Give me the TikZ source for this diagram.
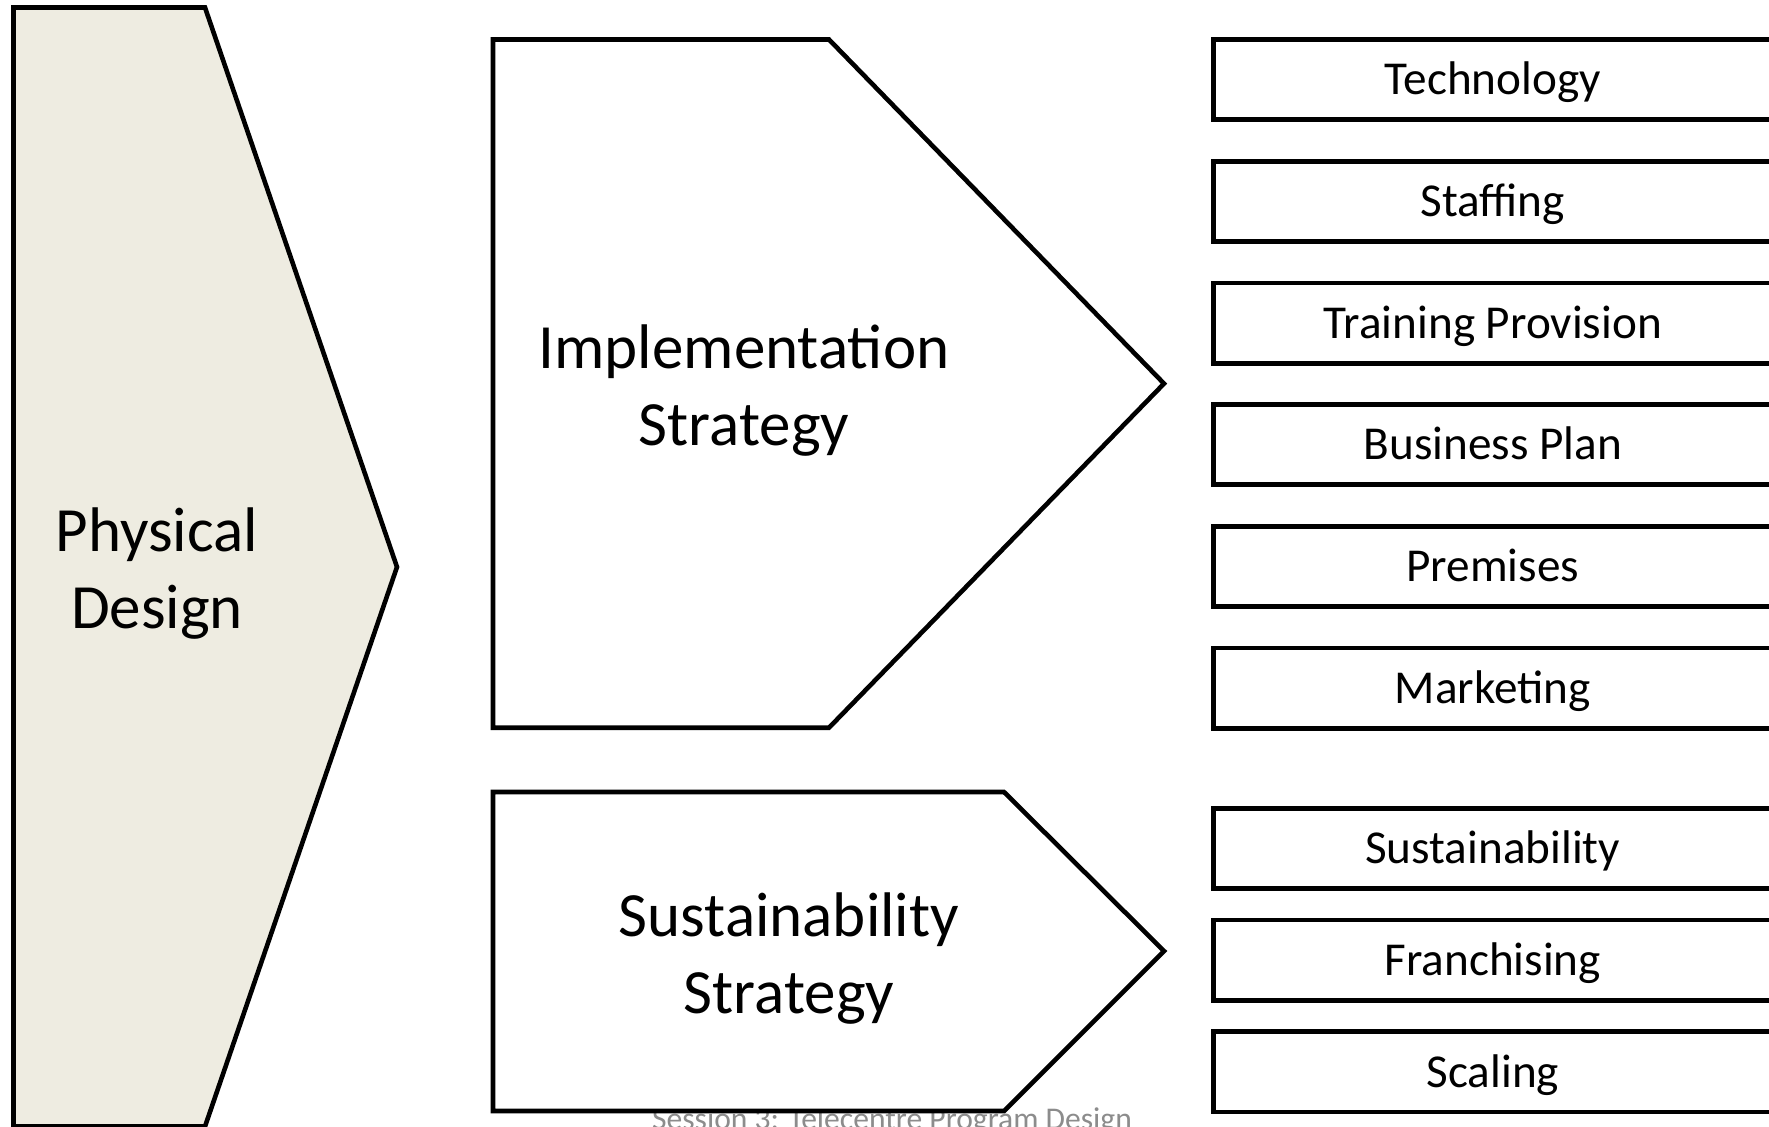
\documentclass[tikz,border=0pt]{standalone}
\usepackage{fontspec}
\setmainfont{Carlito}
\definecolor{bgtwo}{HTML}{EEECE1}
\definecolor{footgray}{HTML}{8C8C8C}
\begin{document}
\begin{tikzpicture}[x=0.5pt,y=-0.5pt,
  shapeline/.style={draw=black, line width=2.3pt, line join=miter},
  bigtext/.style={font=\fontsize{31.5}{38.5}\selectfont, align=center, text=black, inner sep=0pt},
  itembox/.style={draw=black, line width=2.3pt, fill=white, minimum width=279.5pt, minimum height=40.2pt, inner sep=0pt, text height=20pt, text depth=4.8pt, font=\fontsize{23.6}{28}\selectfont, anchor=west},
  footer/.style={font=\fontsize{15.8}{19}\selectfont, text=footgray, inner sep=0pt}]
\useasboundingbox (0,0) rectangle (1769,1126);
\clip (0,0) rectangle (1769,1126);
\fill[white] (0,0) rectangle (1769,1126);
% footer (partly cut off, as in the reference)
\node[footer, anchor=base] (foot) at (892,1129) {Session 3: Telecentre Program Design};
% Physical design chevron
\draw[shapeline, fill=bgtwo] (13.5,7.5) -- (205,7.5) -- (397,567) -- (205,1126.5) -- (13.5,1126.5) -- cycle;
\node[bigtext] (phys) at (157,574) {Physical\\Design};
% Implementation strategy
\draw[shapeline, fill=white] (493,39.5) -- (829,39.5) -- (1164,383.6) -- (829,727.7) -- (493,727.7) -- cycle;
\node[bigtext] (impl) at (744,391) {Implementation\\Strategy};
% Sustainability strategy
\draw[shapeline, fill=white] (493,792) -- (1004,792) -- (1164,951) -- (1004,1111) -- (493,1111) -- cycle;
\node[bigtext] (sust) at (789,959) {Sustainability\\Strategy};
% item boxes
\node[itembox] (tech) at (1211,79.5) {Technology};
\node[itembox] (staff) at (1211,201.4) {Staffing};
\node[itembox] (train) at (1211,323.3) {Training Provision};
\node[itembox] (bus) at (1211,444.5) {Business Plan};
\node[itembox] (prem) at (1211,566.4) {Premises};
\node[itembox] (mark) at (1211,688.2) {Marketing};
\node[itembox] (sustb) at (1211,848.4) {Sustainability};
\node[itembox] (fran) at (1211,960.1) {Franchising};
\node[itembox] (scal) at (1211,1071.8) {Scaling};
\end{tikzpicture}
\end{document}
